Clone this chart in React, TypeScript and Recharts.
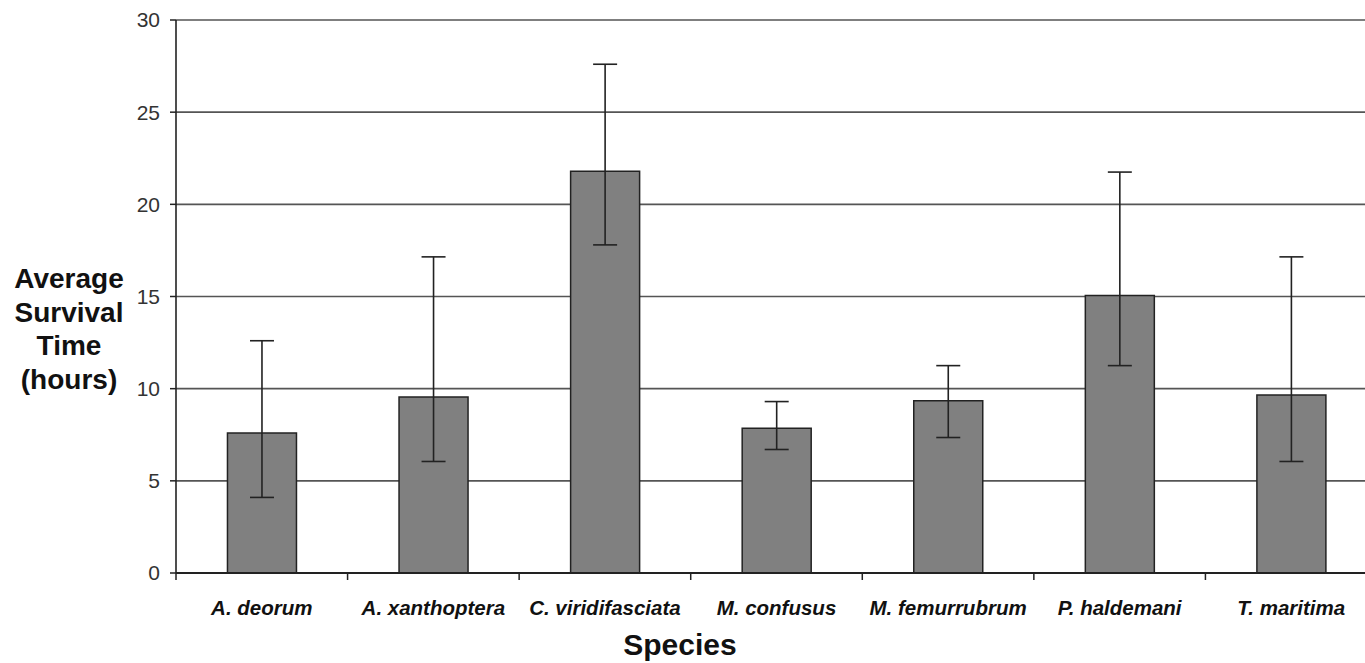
import { Bar, BarChart, CartesianGrid, ErrorBar, XAxis, YAxis } from "recharts";

const species = [
  "A. deorum",
  "A. xanthoptera",
  "C. viridifasciata",
  "M. confusus",
  "M. femurrubrum",
  "P. haldemani",
  "T. maritima"
];
const meanHours = [7.6, 9.55, 21.8, 7.85, 9.35, 15.05, 9.65];
const lowHours = [4.1, 6.05, 17.8, 6.7, 7.35, 11.25, 6.05];
const highHours = [12.6, 17.15, 27.6, 9.3, 11.25, 21.75, 17.15];
const yTicks = [0, 5, 10, 15, 20, 25, 30];

const data = species.map((name, i) => ({
  name,
  mean: meanHours[i],
  err: [meanHours[i] - lowHours[i], highHours[i] - meanHours[i]]
}));

const FONT = "'Liberation Sans', Arial, sans-serif";
const CHART_W = 1377;
const CHART_H = 663;
const X_AXIS_H = 90;
const AXIS_Y = CHART_H - X_AXIS_H;

function SpeciesTick(props: any) {
  const { x, payload } = props;
  const half = payload.offset ?? 0;
  return (
    <g>
      <line x1={x - half} y1={AXIS_Y} x2={x - half} y2={AXIS_Y + 7} stroke="#222" strokeWidth={1.5} />
      <text
        x={x}
        y={AXIS_Y + 42}
        textAnchor="middle"
        fontFamily={FONT}
        fontSize={20.5}
        fontWeight="bold"
        fontStyle="italic"
        fill="#111"
      >
        {payload.value}
      </text>
    </g>
  );
}

function YTitle(props: any) {
  const vb = props.viewBox;
  const cx = vb.x + 69;
  const lines = ["Average", "Survival", "Time", "(hours)"];
  return (
    <text textAnchor="middle" fontFamily={FONT} fontSize={28} fontWeight="bold" fill="#111">
      {lines.map((l, i) => (
        <tspan key={l} x={cx} y={vb.y + 268 + i * 33.5}>
          {l}
        </tspan>
      ))}
    </text>
  );
}

function XTitle(props: any) {
  const vb = props.viewBox;
  return (
    <text
      x={vb.x + 504}
      y={CHART_H - 8}
      textAnchor="middle"
      fontFamily={FONT}
      fontSize={30}
      fontWeight="bold"
      fill="#111"
    >
      Species
    </text>
  );
}

export default function App() {
  return (
    <div
      style={{
        position: "absolute",
        left: 0,
        top: 0,
        width: 1365,
        height: 663,
        overflow: "hidden",
        background: "#fff"
      }}
    >
      <BarChart
        width={CHART_W}
        height={CHART_H}
        data={data}
        margin={{ top: 20, right: 0, bottom: 0, left: 0 }}
        barCategoryGap="30%"
      >
        <CartesianGrid vertical={false} stroke="#555" strokeWidth={1.6} />
        <XAxis
          dataKey="name"
          height={X_AXIS_H}
          interval={0}
          tickLine={false}
          axisLine={{ stroke: "#222", strokeWidth: 2 }}
          tick={<SpeciesTick />}
          label={<XTitle />}
        />
        <YAxis
          width={176}
          domain={[0, 30]}
          ticks={yTicks}
          tickSize={6}
          tickMargin={10}
          axisLine={{ stroke: "#222", strokeWidth: 1.6 }}
          tickLine={{ stroke: "#222", strokeWidth: 1.5 }}
          tick={{ fill: "#333", fontSize: 21, fontFamily: FONT }}
          label={<YTitle />}
        />
        <Bar dataKey="mean" fill="#808080" stroke="#222" strokeWidth={1.5} isAnimationActive={false}>
          <ErrorBar dataKey="err" width={12} stroke="#222" strokeWidth={1.6} direction="y" />
        </Bar>
      </BarChart>
    </div>
  );
}
